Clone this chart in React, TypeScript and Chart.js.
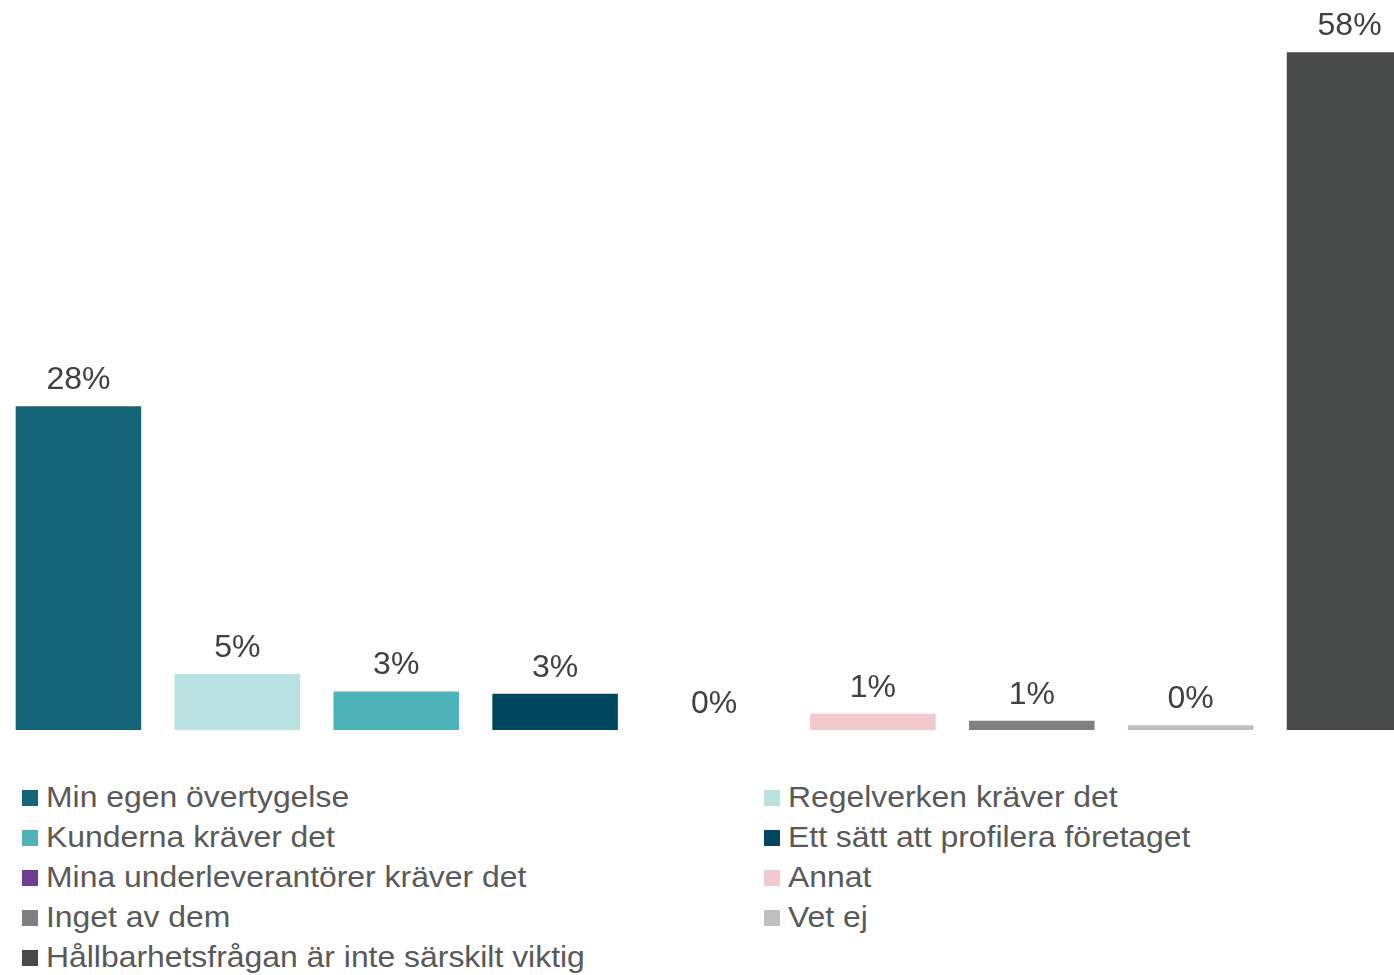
import React, { useEffect, useRef } from "react";
import { Chart, registerables } from "chart.js";

Chart.register(...registerables);

const seriesNames = [
  "Min egen övertygelse",
  "Regelverken kräver det",
  "Kunderna kräver det",
  "Ett sätt att profilera företaget",
  "Mina underleverantörer kräver det",
  "Annat",
  "Inget av dem",
  "Vet ej",
  "Hållbarhetsfrågan är inte särskilt viktig",
];
const seriesValues = [27.7, 4.8, 3.3, 3.1, 0, 1.4, 0.8, 0.4, 58.0];
const seriesColors = [
  "#156477",
  "#B9E1E2",
  "#4EB3B8",
  "#00465F",
  "#6E3F8F",
  "#F2C9CF",
  "#808080",
  "#BFBFBF",
  "#484A4A",
];
const categoryLabels = [""];

const LABEL_FONT = '32px "Liberation Sans", Arial, sans-serif';

const valueLabelPlugin = {
  id: "valueLabels",
  afterDatasetsDraw(chart: any) {
    const ctx = chart.ctx;
    ctx.save();
    ctx.font = LABEL_FONT;
    ctx.fillStyle = "#404040";
    ctx.textAlign = "center";
    ctx.textBaseline = "alphabetic";
    chart.data.datasets.forEach((ds: any, i: number) => {
      const meta = chart.getDatasetMeta(i);
      meta.data.forEach((el: any, j: number) => {
        const v = ds.data[j];
        ctx.fillText(Math.round(v) + "%", el.x, el.y - 17);
      });
    });
    ctx.restore();
  },
};

export default function App() {
  const canvasRef = useRef<HTMLCanvasElement | null>(null);

  useEffect(() => {
    if (!canvasRef.current) return;
    const chart = new Chart(canvasRef.current, {
      type: "bar",
      data: {
        labels: categoryLabels,
        datasets: seriesNames.map((name, i) => ({
          label: name,
          data: [seriesValues[i]],
          backgroundColor: seriesColors[i],
          borderWidth: 0,
          barPercentage: 0.79,
          categoryPercentage: 1.0,
        })),
      },
      options: {
        animation: false,
        responsive: false,
        maintainAspectRatio: false,
        layout: { padding: { top: 29, left: 0, right: 0, bottom: 0 } },
        plugins: {
          legend: { display: false },
          tooltip: { enabled: false },
        },
        scales: {
          x: { display: false, grid: { display: false } },
          y: { display: false, min: 0, max: 60, grid: { display: false } },
        },
      },
      plugins: [valueLabelPlugin],
    });
    return () => chart.destroy();
  }, []);

  const legendFont = '30px "Liberation Sans", Arial, sans-serif';

  return (
    <div
      style={{
        position: "absolute",
        left: 0,
        top: 0,
        width: 1394,
        height: 975,
        overflow: "hidden",
        background: "#ffffff",
      }}
    >
      <canvas
        ref={canvasRef}
        width={1430}
        height={730}
        style={{ position: "absolute", left: -1, top: 0, width: 1430, height: 730 }}
      />
      {seriesNames.map((name, i) => {
        const row = Math.floor(i / 2);
        const col = i % 2;
        const top = 780 + row * 40;
        const sqLeft = col === 0 ? 22 : 764;
        const textLeft = col === 0 ? 46 : 788;
        return (
          <React.Fragment key={name}>
            <div
              style={{
                position: "absolute",
                left: sqLeft,
                top: 790 + row * 40,
                width: 16,
                height: 16,
                background: seriesColors[i],
              }}
            />
            <div
              style={{
                position: "absolute",
                left: textLeft,
                top: top,
                height: 40,
                lineHeight: "40px",
                font: legendFont,
                color: "#595959",
                whiteSpace: "nowrap",
                transform: "scaleX(1.063)",
                transformOrigin: "left center",
              }}
            >
              {name}
            </div>
          </React.Fragment>
        );
      })}
    </div>
  );
}
